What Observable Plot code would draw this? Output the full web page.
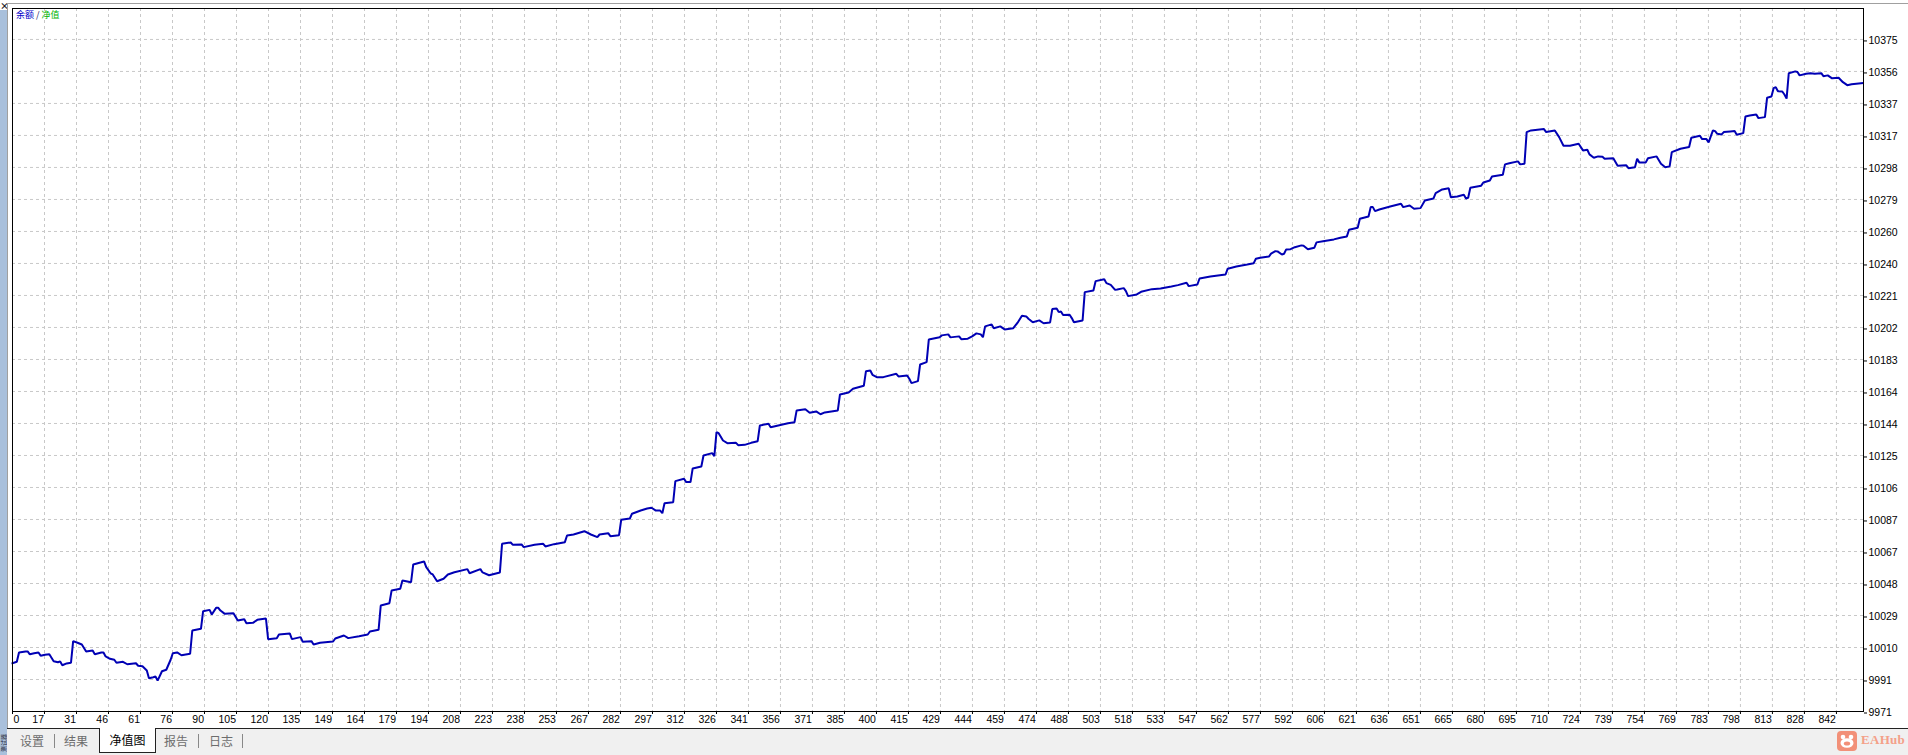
<!DOCTYPE html>
<html>
<head>
<meta charset="utf-8">
<script src="https://cdn.jsdelivr.net/npm/d3@7"></script>
<script src="https://cdn.jsdelivr.net/npm/@observablehq/plot@0.6"></script>
<style>
  html, body { margin: 0; padding: 0; background: #fff; }
  body { width: 1908px; height: 755px; position: relative; overflow: hidden; font-family: "Noto Sans CJK SC", sans-serif; }
  #chart { position: absolute; left: 0; top: 0; }
  .edge-top { position: absolute; left: 7px; top: 3px; width: 1901px; height: 1px; background: #a0a0a0; }
  .edge-left { position: absolute; left: 7px; top: 3px; width: 1px; height: 725px; background: #a0a0a0; }
  .strip { position: absolute; left: 0; top: 10px; width: 7px; height: 745px; background: #a9c0dc; overflow: hidden; }
  .strip span { position: absolute; left: 0; top: 742px; font-size: 6px; line-height: 7px; color: #223; transform: rotate(-90deg); transform-origin: left top; white-space: nowrap; }
  .close { position: absolute; left: 0; top: 1px; font-size: 9px; font-weight: bold; line-height: 9px; color: #222; }
  .legend { position: absolute; left: 16px; top: 9px; font-size: 9px; line-height: 12px; white-space: nowrap; }
  .tabs { position: absolute; left: 7px; top: 728px; width: 1901px; height: 27px; background: #f0f0f0; border-top: 1px solid #222; }
  .tab { position: absolute; top: 3px; font-size: 12px; color: #6d6d6d; }
  .tab.active { top: -1px; height: 21px; padding: 3px 0 0 0; background: #fff; border: 1px solid #222; border-top: none; color: #000; text-align: center; }
  .sep { position: absolute; top: 5px; width: 1px; height: 14px; background: #888; }
  .mark { position: absolute; left: 1837px; top: 731px; }
  .mark-text { position: absolute; left: 1861px; top: 733px; font-family: "Liberation Serif", "DejaVu Serif", serif; font-weight: bold; font-size: 13px; line-height: 14px; letter-spacing: 0.3px; color: #f4a088; }
</style>
</head>
<body>
<div id="chart"></div>
<div class="strip"><span>测试器</span></div>
<div class="close">×</div>
<div class="edge-top"></div>
<div class="edge-left"></div>
<div class="legend"><span style="color:#0000c8">余额</span><span style="color:#1a1a6a"> / </span><span style="color:#00b400">净值</span></div>
<div class="tabs">
  <div class="tab" style="left:13px">设置</div>
  <div class="sep" style="left:47px"></div>
  <div class="tab" style="left:57px">结果</div>
  <div class="tab active" style="left:92px;width:55px">净值图</div>
  <div class="tab" style="left:157px">报告</div>
  <div class="sep" style="left:191px"></div>
  <div class="tab" style="left:202px">日志</div>
  <div class="sep" style="left:235px"></div>
</div>
<svg class="mark" width="20" height="20" viewBox="0 0 20 20">
  <rect x="0" y="0" width="20" height="20" rx="4" fill="#f29078"/>
  <circle cx="6" cy="6" r="2.3" fill="#fff"/>
  <circle cx="14" cy="6" r="2.3" fill="#fff"/>
  <ellipse cx="10" cy="12" rx="6.5" ry="4.8" fill="#fff"/>
  <ellipse cx="10" cy="12.5" rx="3.2" ry="2" fill="#f29078"/>
</svg>
<div class="mark-text">EAHub</div>

<script>
// x axis labels (trade number) and y axis labels (balance)
const xLabels = ["0","17","31","46","61","76","90","105","120","135","149","164","179","194","208","223","238","253","267","282","297","312","326","341","356","371","385","400","415","429","444","459","474","488","503","518","533","547","562","577","592","606","621","636","651","665","680","695","710","724","739","754","769","783","798","813","828","842"];
const yLabels = ["9971","9991","10010","10029","10048","10067","10087","10106","10125","10144","10164","10183","10202","10221","10240","10260","10279","10298","10317","10337","10356","10375"];

// axis extents
const xMax = 854.5;
const yMin = 9971, yTopLabel = 10375, yMax = 10393.6;

// balance curve
const trade = [0,2,3,6,7,8,10,12,13,15,17,19,21,22,23,25,27,28,30,32,34,37,38,41,42,43,45,47,48,51,53,57,58,60,62,63,65,66,67,69,71,73,74,76,78,82,83,87,88,91,92,94,95,96,98,102,104,107,108,111,113,117,118,122,123,128,129,133,134,138,139,142,148,149,153,155,160,164,165,169,170,174,175,179,180,184,185,190,191,193,194,196,199,201,204,210,211,216,217,220,225,226,230,231,235,236,241,245,246,250,255,256,259,264,267,270,271,275,276,280,281,285,286,290,293,295,297,299,300,301,305,306,310,311,313,314,318,319,323,324,325,326,328,330,334,335,338,341,344,345,349,350,353,358,361,362,366,368,371,373,375,381,382,386,388,393,394,396,397,399,402,408,409,413,414,415,418,419,422,423,428,429,432,433,437,438,441,443,445,447,448,449,452,453,456,458,462,464,466,468,469,471,474,476,479,480,482,483,484,485,488,489,490,494,495,499,500,504,505,507,509,510,513,514,515,519,521,526,530,535,538,542,543,547,548,553,560,561,565,570,573,574,576,580,581,583,584,586,587,588,590,592,595,596,598,601,602,605,610,613,616,617,621,622,626,627,628,629,631,636,641,642,645,647,650,652,656,657,660,663,664,667,670,671,672,673,678,679,682,683,688,689,691,695,696,698,699,701,707,708,712,714,716,719,723,725,727,728,730,732,734,735,739,741,745,746,749,750,751,754,755,759,761,763,765,766,770,774,775,779,780,782,783,785,786,787,789,790,793,795,796,799,800,802,805,806,809,810,812,813,814,815,817,818,819,820,823,824,825,828,830,832,835,836,838,840,843,845,847,849,854];
const balance = [10000.0,10000.9,10006.5,10007.1,10007.1,10005.4,10006.0,10006.5,10004.5,10005.1,10005.4,10001.2,10000.6,10001.1,9998.8,9999.9,10000.3,10013.3,10012.3,10011.3,10007.1,10007.7,10005.4,10006.5,10006.5,10004.1,10002.7,10002.1,10000.3,10000.9,9999.4,10000.0,9998.5,9998.2,9995.6,9991.0,9991.6,9992.0,9989.6,9995.2,9996.1,10002.1,10006.0,10006.5,10004.8,10005.7,10019.7,10020.7,10031.3,10032.1,10029.3,10033.3,10033.3,10031.7,10029.7,10030.1,10025.7,10026.5,10024.1,10024.3,10026.1,10026.9,10014.5,10015.1,10017.3,10017.9,10014.5,10015.7,10012.9,10013.3,10011.3,10012.3,10013.1,10014.9,10016.7,10015.1,10016.3,10017.3,10019.1,10020.1,10034.7,10036.1,10043.7,10044.8,10049.8,10048.7,10059.4,10061.2,10057.8,10054.1,10053.4,10049.3,10050.8,10053.4,10054.7,10056.6,10054.1,10056.6,10054.6,10052.9,10054.6,10071.8,10072.6,10071.2,10071.4,10069.8,10071.2,10071.8,10070.2,10071.6,10072.8,10076.8,10077.4,10079.4,10077.4,10075.8,10077.4,10078.2,10076.4,10077.0,10086.2,10087.0,10089.9,10091.8,10093.0,10093.5,10091.8,10091.8,10090.2,10096.2,10096.8,10109.5,10110.9,10108.9,10108.9,10117.1,10118.3,10124.9,10126.3,10124.5,10138.9,10138.3,10133.9,10132.3,10132.5,10131.1,10131.3,10132.5,10133.5,10142.9,10144.0,10141.9,10142.8,10144.3,10144.9,10152.0,10152.7,10150.6,10151.4,10149.7,10150.8,10152.0,10161.6,10162.8,10165.0,10166.8,10175.6,10176.0,10173.4,10172.0,10172.0,10174.0,10172.4,10173.0,10171.0,10168.4,10169.6,10179.6,10181.0,10194.6,10196.0,10197.1,10197.7,10195.9,10196.5,10194.8,10195.1,10196.5,10198.3,10197.7,10196.0,10202.5,10203.7,10201.4,10202.5,10200.7,10201.4,10204.7,10208.9,10208.5,10207.1,10205.0,10206.1,10204.4,10204.9,10212.9,10213.3,10211.1,10211.5,10209.3,10209.5,10207.5,10205.0,10206.1,10223.1,10224.1,10229.7,10230.9,10228.5,10227.5,10224.5,10224.7,10225.5,10223.7,10220.7,10221.7,10223.3,10224.9,10225.3,10226.5,10227.3,10228.7,10226.7,10227.7,10231.3,10232.5,10233.7,10237.2,10238.5,10239.7,10240.5,10243.2,10243.8,10244.5,10246.2,10247.7,10247.6,10245.7,10246.2,10248.8,10248.9,10250.1,10251.2,10251.0,10248.9,10249.8,10253.0,10253.7,10254.8,10255.8,10256.6,10260.6,10261.8,10267.2,10268.6,10274.2,10274.2,10271.8,10272.8,10274.6,10276.2,10274.2,10275.2,10273.2,10273.6,10278.2,10279.4,10282.6,10284.8,10285.6,10280.2,10280.6,10281.6,10279.4,10279.8,10285.8,10287.1,10289.0,10290.2,10292.6,10293.7,10299.9,10300.6,10301.7,10299.9,10300.3,10319.3,10320.3,10321.1,10319.3,10320.3,10316.3,10311.1,10311.1,10312.3,10308.3,10308.7,10305.9,10303.9,10304.7,10304.5,10303.3,10303.6,10299.1,10299.3,10297.6,10298.2,10303.3,10301.1,10301.1,10303.6,10304.7,10300.3,10298.2,10298.7,10307.3,10309.3,10310.3,10315.9,10317.1,10315.1,10315.1,10313.1,10320.3,10319.9,10318.3,10317.9,10319.3,10319.7,10319.9,10317.7,10318.7,10328.7,10329.3,10329.9,10327.7,10328.3,10340.0,10340.7,10345.7,10346.3,10343.9,10343.7,10341.9,10339.4,10354.7,10355.8,10355.4,10353.4,10354.4,10354.7,10354.4,10354.7,10352.9,10353.4,10351.6,10352.0,10349.3,10347.5,10348.1,10348.7];

const data = trade.map((t, i) => ({trade: t, balance: balance[i]}));

// tick positions: evenly spaced grid as in the terminal
const xStep = +xLabels[xLabels.length - 1] / (xLabels.length - 1);
const yStep = (yTopLabel - yMin) / (yLabels.length - 1);
const xTicks = xLabels.map((d, i) => i * xStep);
const yTicks = yLabels.map((d, i) => yMin + i * yStep);
const xLabelData = xLabels.map((d, i) => ({x: xTicks[i], label: d}));

const axisFont = '"Liberation Sans Narrow", "Liberation Sans", sans-serif';

const plot = Plot.plot({
  width: 1908,
  height: 728,
  marginLeft: 12,
  marginRight: 45,
  marginTop: 8,
  marginBottom: 17,
  style: {fontFamily: axisFont, fontSize: "10.5px", color: "#000", background: "transparent"},
  x: {domain: [0, xMax], axis: null},
  y: {domain: [yMin, yMax], axis: null},
  marks: [
    Plot.gridX(xTicks, {stroke: "#c8c8c8", strokeOpacity: 1, strokeDasharray: "3,3"}),
    Plot.gridY(yTicks, {stroke: "#c8c8c8", strokeOpacity: 1, strokeDasharray: "3,3"}),
    Plot.axisY(yTicks, {
      anchor: "right",
      tickSize: 3,
      tickPadding: 2,
      dy: 1.5,
      tickFormat: d => yLabels[yTicks.indexOf(d)],
      label: null
    }),
    Plot.axisX(xTicks, {
      anchor: "bottom",
      tickSize: 3,
      tickFormat: () => "",
      label: null
    }),
    Plot.text(xLabelData.slice(0, 1), {
      x: "x", y: () => yMin, text: "label", textAnchor: "start",
      dx: 1, dy: 8, lineAnchor: "middle", clip: false
    }),
    Plot.text(xLabelData.slice(1), {
      x: "x", y: () => yMin, text: "label", textAnchor: "end",
      dx: -0.5, dy: 8, lineAnchor: "middle", clip: false
    }),
    Plot.line(data, {
      x: "trade", y: "balance",
      stroke: "#0000b4", strokeWidth: 2, strokeLinejoin: "miter", strokeLinecap: "square"
    }),
    Plot.frame({stroke: "#000", strokeWidth: 1})
  ]
});

document.getElementById("chart").appendChild(plot);
</script>
</body>
</html>
